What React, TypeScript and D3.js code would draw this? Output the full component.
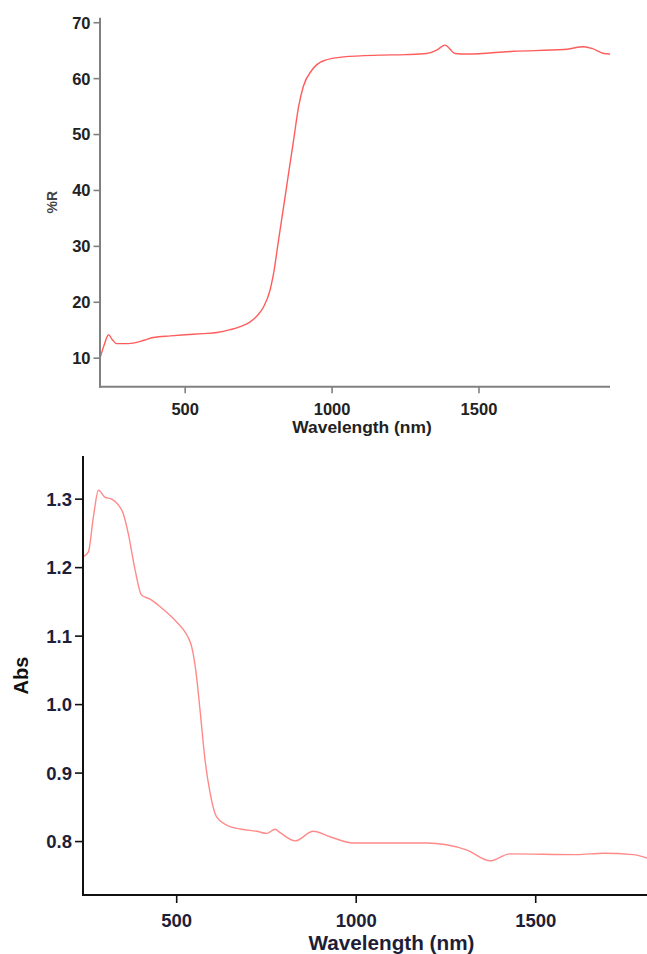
import React from "react"
import * as d3 from "d3"

// top panel: reflectance spectrum
const reflWavelength = [210, 225, 239, 252, 267, 290, 323, 360, 391, 450, 500, 560, 608, 653, 690, 721, 745, 767, 789, 801, 818, 835, 852, 869, 886, 902, 931, 971, 1039, 1164, 1250, 1322, 1356, 1384, 1419, 1458, 1618, 1788, 1857, 1885, 1925, 1946]
const reflValues = [10, 12.5, 14.2, 13.3, 12.6, 12.6, 12.7, 13.2, 13.7, 14.0, 14.2, 14.4, 14.6, 15.1, 15.7, 16.5, 17.6, 19.2, 22.2, 25.2, 31.2, 37.1, 43.1, 49.0, 55.0, 58.6, 61.5, 63.2, 63.9, 64.2, 64.3, 64.5, 65.1, 66.0, 64.5, 64.4, 64.9, 65.2, 65.7, 65.4, 64.5, 64.4]
const reflXTicks = [500, 1000, 1500]
const reflYTicks = [10, 20, 30, 40, 50, 60, 70]

// bottom panel: absorbance spectrum
const absWavelength = [240, 254, 268, 282, 300, 319, 337, 351, 365, 384, 402, 426, 454, 490, 519, 532, 542, 551, 558, 565, 579, 593, 611, 639, 680, 723, 751, 774, 788, 830, 880, 927, 992, 1196, 1307, 1373, 1428, 1614, 1688, 1771, 1810]
const absValues = [1.216, 1.223, 1.274, 1.313, 1.303, 1.300, 1.292, 1.279, 1.250, 1.197, 1.160, 1.154, 1.143, 1.126, 1.109, 1.098, 1.084, 1.058, 1.028, 0.992, 0.919, 0.871, 0.836, 0.824, 0.818, 0.815, 0.812, 0.818, 0.813, 0.801, 0.815, 0.807, 0.798, 0.798, 0.788, 0.772, 0.782, 0.781, 0.783, 0.781, 0.776]
const absXTicks = [500, 1000, 1500]
const absYTicks = [0.8, 0.9, 1.0, 1.1, 1.2, 1.3]

const font = "'Liberation Sans', Arial, sans-serif"

const Panel = ({ xs, ys, xDomain, yDomain, box, xTicks, yTicks, fmt, axisColor, textColor, lineColor, tickSize, tickFont, tickBaseline, xTitle, xTitleX, xTitleY, xTitleSize, yTitle, yTitleX, yTitleSize, yTitleColor, clipRight }) => {
  const { left, right, top, bottom } = box
  const x = d3.scaleLinear().domain(xDomain).range([left, right])
  const y = d3.scaleLinear().domain(yDomain).range([bottom, top])
  const pts = xs.map((w, i) => [w, ys[i]])
  const line = d3.line().x(d => x(d[0])).y(d => y(d[1])).curve(d3.curveMonotoneX)
  return (
    <g fontFamily={font} fontWeight="bold">
      <path d={line(pts)} fill="none" stroke={lineColor} strokeWidth={1.4} />
      <line x1={left} x2={left} y1={top} y2={bottom + 1} stroke={axisColor} strokeWidth={2} />
      <line x1={left - 1} x2={clipRight} y1={bottom} y2={bottom} stroke={axisColor} strokeWidth={2} />
      {yTicks.map(t => (
        <g key={t}>
          <line x1={left - tickSize} x2={left} y1={y(t)} y2={y(t)} stroke={axisColor} strokeWidth={1.6} />
          <text x={left - tickSize - 3} y={y(t)} dy="0.36em" textAnchor="end" fontSize={tickFont} fill={textColor}>{fmt(t)}</text>
        </g>
      ))}
      {xTicks.map(t => (
        <g key={t}>
          <line x1={x(t)} x2={x(t)} y1={bottom} y2={bottom + tickSize} stroke={axisColor} strokeWidth={1.6} />
          <text x={x(t)} y={tickBaseline} textAnchor="middle" fontSize={tickFont} fill={textColor}>{t}</text>
        </g>
      ))}
      <text x={xTitleX} y={xTitleY} textAnchor="middle" fontSize={xTitleSize} fill={textColor}>{xTitle}</text>
      <text transform={`translate(${yTitleX}, ${(top + bottom) / 2}) rotate(-90)`} textAnchor="middle" fontSize={yTitleSize} fill={yTitleColor}>{yTitle}</text>
    </g>
  )
}

export default function App() {
  return (
    <div style={{ position: "absolute", left: 0, top: 0 }}>
      <svg width={647} height={954} style={{ display: "block", background: "#fff" }}>
        <Panel
          xs={reflWavelength} ys={reflValues}
          xDomain={[210, 1946]} yDomain={[4.9, 70.9]}
          box={{ left: 100, right: 610, top: 17.7, bottom: 386.7 }}
          xTicks={reflXTicks} yTicks={reflYTicks} fmt={d => d}
          axisColor="#808080" textColor="#222" lineColor="#ff5c5c"
          tickSize={6.5} tickFont={16.5} tickBaseline={414.5}
          xTitle="Wavelength (nm)" xTitleX={362} xTitleY={433} xTitleSize={17.4}
          yTitle="%R" yTitleX={57} yTitleSize={14} yTitleColor="#444"
          clipRight={610}
        />
        <Panel
          xs={absWavelength} ys={absValues}
          xDomain={[239, 1810]} yDomain={[0.722, 1.363]}
          box={{ left: 83, right: 647, top: 456, bottom: 895 }}
          xTicks={absXTicks} yTicks={absYTicks} fmt={d3.format(".1f")}
          axisColor="#111" textColor="#1e1e38" lineColor="#ff8a8a"
          tickSize={8} tickFont={18.5} tickBaseline={926.5}
          xTitle="Wavelength (nm)" xTitleX={391.5} xTitleY={950} xTitleSize={20.7}
          yTitle="Abs" yTitleX={28} yTitleSize={20} yTitleColor="#111"
          clipRight={647}
        />
      </svg>
    </div>
  )
}
